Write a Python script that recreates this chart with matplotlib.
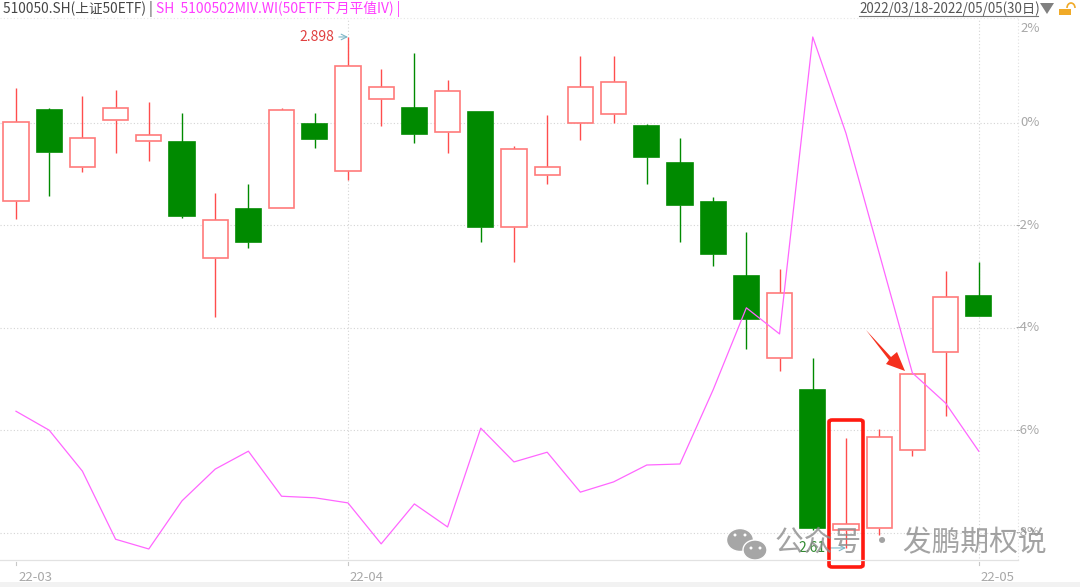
import matplotlib
matplotlib.use("Agg")
import matplotlib.pyplot as plt
from matplotlib.patches import Rectangle, FancyBboxPatch, Polygon, Ellipse, Arc

plt.rcParams['font.family'] = ['Noto Sans CJK SC', 'DejaVu Sans']

# candles, percent change scale
opens = [-1.52, 0.25, -0.86, 0.06, -0.35, -0.37, -2.64, -1.68, -1.66, -0.02,
         -0.94, 0.47, 0.29, -0.18, 0.21, -2.03, -1.02, 0.00, 0.18, -0.06,
         -0.78, -1.54, -2.99, -4.59, -5.21, -7.95, -7.91, -6.39, -4.47, -3.38]
closes = [0.02, -0.57, -0.29, 0.29, -0.23, -1.82, -1.89, -2.32, 0.25, -0.31,
          1.11, 0.70, -0.21, 0.63, -2.03, -0.51, -0.86, 0.70, 0.80, -0.66,
          -1.60, -2.56, -3.83, -3.32, -7.91, -7.83, -6.13, -4.90, -3.40, -3.77]
highs = [0.68, 0.29, 0.53, 0.64, 0.41, 0.20, -1.37, -1.19, 0.29, 0.20,
         1.68, 1.05, 1.37, 0.84, 0.21, -0.45, 0.16, 1.31, 1.31, -0.02,
         -0.29, -1.45, -2.13, -2.85, -4.59, -6.15, -5.98, -4.90, -2.89, -2.71]
lows = [-1.88, -1.43, -0.96, -0.59, -0.74, -1.86, -3.79, -2.44, -1.66, -0.49,
        -1.11, -0.06, -0.39, -0.59, -2.32, -2.71, -1.19, -0.33, 0.00, -1.19,
        -2.32, -2.79, -4.41, -4.84, -7.95, -8.30, -8.05, -6.50, -5.72, -3.77]
iv_line = [-5.63, -6.00, -6.80, -8.13, -8.32, -7.38, -6.76, -6.41, -7.29, -7.32,
           -7.42, -8.22, -7.44, -7.89, -5.96, -6.62, -6.43, -7.21, -7.01, -6.68,
           -6.66, -5.21, -3.61, -4.12, 1.68, -0.20, -2.54, -4.88, -5.47, -6.41]
y_ticks = [2, 0, -2, -4, -6, -8]
y_labels = ['2%', '0%', '-2%', '-4%', '-6%', '-8%']
x_ticks = [0, 10, 29]
x_labels = ['22-03', '22-04', '22-05']

RED = '#ff4d4d'
RED_EDGE = '#ff7a7a'
GREEN = '#008a00'
W, H = 1080, 587

fig = plt.figure(figsize=(10.8, 5.87), dpi=100)
ax = fig.add_axes([0, 0, 1, 1])
ax.set_xlim(-0.482, 32.05)
ax.set_ylim(-9.0625, 2.402)
ax.axis('off')


def px(x, y):
    return x / W, 1 - y / H


# frame and grid
GRID = '#d4d4d4'
for v in y_ticks[1:]:
    ax.axhline(v, xmin=0, xmax=1018 / W, color=GRID, lw=0.8, ls=(0, (1, 2)), zorder=1)
for t in x_ticks[1:]:
    ax.plot([t, t], [-8.5, 2.05], color=GRID, lw=0.8, ls=(0, (1, 2)), zorder=1)
fig.add_artist(plt.Line2D([1018 / W] * 2, [px(0, 560)[1], px(0, 18)[1]], color='#e0e0e0', lw=0.8, ls=(0, (1, 2))))
fig.add_artist(plt.Line2D([0, 1018 / W], [px(0, 18)[1]] * 2, color='#e6e6e6', lw=0.8, ls=(0, (1, 2))))
fig.add_artist(plt.Line2D([0, 1018 / W], [px(0, 560)[1]] * 2, color='#e2e2e2', lw=0.9))
fig.add_artist(Rectangle((0, 0), 1, 5 / H, transform=fig.transFigure, color='#f2f2f2', lw=0))

# candles
for i in range(len(opens)):
    up = closes[i] >= opens[i]
    c = RED if up else GREEN
    top = max(opens[i], closes[i])
    bot = min(opens[i], closes[i])
    ax.plot([i, i], [top, highs[i]], color=c, lw=1, zorder=2, solid_capstyle='butt')
    ax.plot([i, i], [bot, lows[i]], color=c, lw=1, zorder=2, solid_capstyle='butt')
    ax.add_patch(Rectangle((i - 0.38, bot), 0.76, top - bot, facecolor='white' if up else c,
                           edgecolor=RED_EDGE if up else c, lw=1.2, zorder=3))
ax.plot(range(len(iv_line)), iv_line, color='#ff66ff', lw=0.9, zorder=4)

# y and x labels
for v, s in zip(y_ticks, y_labels):
    yy = 1.85 if v == 2 else v
    ax.text(1040 / W, yy, s, transform=ax.get_yaxis_transform(), ha='right', va='center',
            fontsize=9.5, color='#a8a8a8', zorder=5)
for t, s in zip(x_ticks, x_labels):
    ax.text(t + 0.06, -8.87, s, ha='left', va='center', fontsize=9.5, color='#a8a8a8', zorder=5)
    ax.plot([t, t], [-8.58, -8.64], color='#c8c8c8', lw=0.8, zorder=1)

# header
fig.text(*px(3, 9), '510050.SH(上证50ETF) |', fontsize=9.85, color='#444444', va='center')
fig.text(*px(156, 9), 'SH  5100502MIV.WI(50ETF下月平值IV) |', fontsize=9.95, color='#ff3dff', va='center')
fig.text(*px(859, 9), '2022/03/18-2022/05/05(30日)', fontsize=9.6, color='#555555', va='center')
fig.add_artist(plt.Line2D([859 / W, 1038 / W], [px(0, 16)[1]] * 2, color='#777777', lw=0.8))
fig.add_artist(Polygon([px(1040, 3), px(1054, 3), px(1047, 14)], transform=fig.transFigure, color='#808080', lw=0))
fig.add_artist(Rectangle(px(1059, 15), 12 / W, 6.5 / H, transform=fig.transFigure, lw=0, color='#f0aa28'))
fig.add_artist(Arc(px(1071, 8), 8 / W, 10 / H, theta1=0, theta2=180, transform=fig.transFigure,
                   ec='#f0aa28', lw=1.2))

# high and low notes
ax.annotate('2.898', xy=(10, highs[10]), xytext=(9.6, highs[10]), fontsize=10, color='#e04040',
            ha='right', va='center', zorder=6,
            arrowprops=dict(arrowstyle='->', color='#7fb8c8', lw=0.8, shrinkA=1, shrinkB=0))
ax.annotate('2.61', xy=(25, lows[25]), xytext=(24.4, lows[25]), fontsize=10, color='#2f8a2f',
            ha='right', va='center', zorder=6,
            arrowprops=dict(arrowstyle='->', color='#7fb8c8', lw=0.8, shrinkA=1, shrinkB=0))

# red highlight box and arrow
x0, y0 = px(829, 567)
fig.add_artist(FancyBboxPatch((x0, y0), 34 / W, 147 / H, boxstyle='round,pad=0,rounding_size=0.003',
                              transform=fig.transFigure, fill=False, ec='#ff1a10', lw=2.6))
fig.add_artist(Polygon([px(866, 330), px(891, 357), px(897, 352), px(905, 371), px(886, 364), px(889, 360)],
                       transform=fig.transFigure, color='#f5301e', lw=0))

# watermark
for cx, cy, rw, rh in [(740, 540, 27, 23), (755, 550, 24, 20)]:
    fig.add_artist(Ellipse(px(cx, cy), rw / W, rh / H, transform=fig.transFigure,
                           fc='#a6a6a6', ec='white', lw=1))
for cx, cy in [(735, 535), (745, 535), (751, 548), (760, 548)]:
    fig.add_artist(Ellipse(px(cx, cy), 3 / W, 3 / H, transform=fig.transFigure, fc='white', lw=0))
fig.text(*px(775, 543), '公众号 · 发鹏期权说', fontsize=20.7, color='#8c8c8c', alpha=0.8, va='center')

fig.savefig('out.png', dpi=100)
